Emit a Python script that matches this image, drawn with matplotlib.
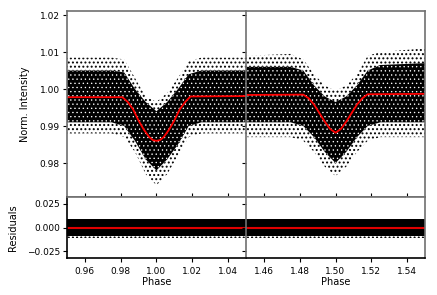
import matplotlib
matplotlib.use('Agg')
import matplotlib.pyplot as plt

# model light curve
model1_phase = [0.95, 0.981, 0.984, 0.987, 0.990, 0.993, 0.996, 0.998, 1.000,
                1.002, 1.004, 1.007, 1.010, 1.013, 1.016, 1.019, 1.05]
model1_flux = [0.9978, 0.9978, 0.9965, 0.9945, 0.9915, 0.9890, 0.9870, 0.9862,
               0.9860, 0.9862, 0.9870, 0.9890, 0.9915, 0.9945, 0.9965, 0.9980,
               0.9981]
model2_phase = [1.45, 1.482, 1.485, 1.488, 1.491, 1.494, 1.497, 1.500, 1.503,
                1.506, 1.509, 1.512, 1.515, 1.518, 1.55]
model2_flux = [0.9984, 0.9985, 0.9975, 0.9958, 0.9935, 0.9912, 0.9892, 0.9882,
               0.9892, 0.9912, 0.9935, 0.9958, 0.9975, 0.9986, 0.9987]

# envelope of the scattered points (dense core / sparse fringe)
env1_phase = [0.95, 0.975, 0.982, 0.988, 0.994, 1.000, 1.006, 1.012, 1.018, 1.025, 1.05]
core1_hi = [1.005, 1.005, 1.0045, 1.000, 0.9965, 0.994, 0.9965, 1.000, 1.004, 1.005, 1.005]
core1_lo = [0.991, 0.991, 0.990, 0.986, 0.981, 0.978, 0.981, 0.985, 0.990, 0.991, 0.991]
outer1_hi = [1.0085, 1.0085, 1.008, 1.003, 0.998, 0.9965, 0.999, 1.003, 1.0075, 1.0085, 1.0085]
outer1_lo = [0.988, 0.988, 0.987, 0.983, 0.977, 0.974, 0.977, 0.982, 0.987, 0.988, 0.988]

env2_phase = [1.45, 1.475, 1.482, 1.488, 1.494, 1.500, 1.506, 1.512, 1.518, 1.525, 1.55]
core2_hi = [1.006, 1.006, 1.005, 1.001, 0.998, 0.9965, 0.998, 1.001, 1.005, 1.0065, 1.007]
core2_lo = [0.991, 0.991, 0.990, 0.987, 0.983, 0.980, 0.983, 0.987, 0.990, 0.991, 0.991]
outer2_hi = [1.009, 1.0095, 1.008, 1.004, 1.001, 0.9995, 1.001, 1.004, 1.009, 1.010, 1.011]
outer2_lo = [0.987, 0.987, 0.986, 0.983, 0.979, 0.9765, 0.979, 0.983, 0.986, 0.987, 0.987]

resid_core = [-0.0085, 0.0085]
resid_outer = [-0.0115, 0.0105]

xticks1 = [0.96, 0.98, 1.00, 1.02, 1.04]
xticks2 = [1.46, 1.48, 1.50, 1.52, 1.54]
yticks_top = [0.98, 0.99, 1.00, 1.01, 1.02]
yticks_res = [-0.025, 0.0, 0.025]

plt.rcParams['font.size'] = 6.5
plt.rcParams['hatch.linewidth'] = 0.9

fig = plt.figure(figsize=(4.37, 2.95), dpi=100)
x0, xm, x1 = 0.153, 0.563, 0.9725
yb, ym, yt = 0.1254, 0.332, 0.9627

ax_t1 = fig.add_axes([x0, ym, xm - x0, yt - ym])
ax_t2 = fig.add_axes([xm, ym, x1 - xm, yt - ym], sharey=ax_t1)
ax_r1 = fig.add_axes([x0, yb, xm - x0, ym - yb], sharex=ax_t1)
ax_r2 = fig.add_axes([xm, yb, x1 - xm, ym - yb], sharex=ax_t2, sharey=ax_r1)


def band(ax, ph, lo, hi, core_lo, core_hi):
    # sparse fringe of points, then dense core
    ax.fill_between(ph, lo, hi, facecolor='none', edgecolor='black',
                    hatch='....', linewidth=0)
    with plt.rc_context({'hatch.linewidth': 0.45}):
        ax.fill_between(ph, core_lo, core_hi, facecolor='black',
                        edgecolor='white', hatch='....', linewidth=0)


band(ax_t1, env1_phase, outer1_lo, outer1_hi, core1_lo, core1_hi)
band(ax_t2, env2_phase, outer2_lo, outer2_hi, core2_lo, core2_hi)
ax_t1.plot(model1_phase, model1_flux, color='red', lw=1.3)
ax_t2.plot(model2_phase, model2_flux, color='red', lw=1.3)

for ax, lims in [(ax_r1, (0.95, 1.05)), (ax_r2, (1.45, 1.55))]:
    ax.fill_between(lims, [resid_outer[0]] * 2, [resid_outer[1]] * 2,
                    facecolor='none', edgecolor='black', hatch='....', linewidth=0)
    ax.fill_between(lims, [resid_core[0]] * 2, [resid_core[1]] * 2,
                    facecolor='black', linewidth=0)
    ax.plot(lims, [0, 0], color='#e00000', lw=1.5)

ax_t1.set_xlim(0.95, 1.05)
ax_t2.set_xlim(1.45, 1.55)
ax_t1.set_ylim(0.9708, 1.0211)
ax_r1.set_ylim(-0.032, 0.032)

ax_r1.set_xticks(xticks1)
ax_r2.set_xticks(xticks2)
ax_t1.set_yticks(yticks_top)
ax_r1.set_yticks(yticks_res)
ax_r1.set_yticklabels(['\u22120.025', '0.000', '0.025'])

for ax in (ax_t1, ax_t2):
    ax.tick_params(axis='x', direction='in', labelbottom=False, length=3)
for ax in (ax_t2, ax_r2):
    ax.tick_params(axis='y', labelleft=False)
for ax in (ax_t1, ax_t2, ax_r1, ax_r2):
    ax.tick_params(axis='y', length=3, width=0.8, pad=2)
    ax.tick_params(axis='x', width=0.8)
    for s in ax.spines.values():
        s.set_color('#707070')
        s.set_linewidth(1.2)
ax_r1.tick_params(axis='x', length=3)
ax_r2.tick_params(axis='x', length=3)
ax_r1.spines['left'].set_color('black')
ax_r1.spines['bottom'].set_color('black')
ax_r2.spines['bottom'].set_color('black')
for ax in (ax_t1, ax_r1):
    ax.spines['right'].set_visible(False)

ax_t1.set_ylabel('Norm. Intensity', fontsize=7)
ax_r1.set_ylabel('Residuals', fontsize=7)
ax_r1.set_xlabel('Phase', fontsize=7, labelpad=1)
ax_r2.set_xlabel('Phase', fontsize=7, labelpad=1)
ax_t1.yaxis.set_label_coords(-0.203, 0.5)
ax_r1.yaxis.set_label_coords(-0.274, 0.5)

fig.savefig('out.png', dpi=100)
